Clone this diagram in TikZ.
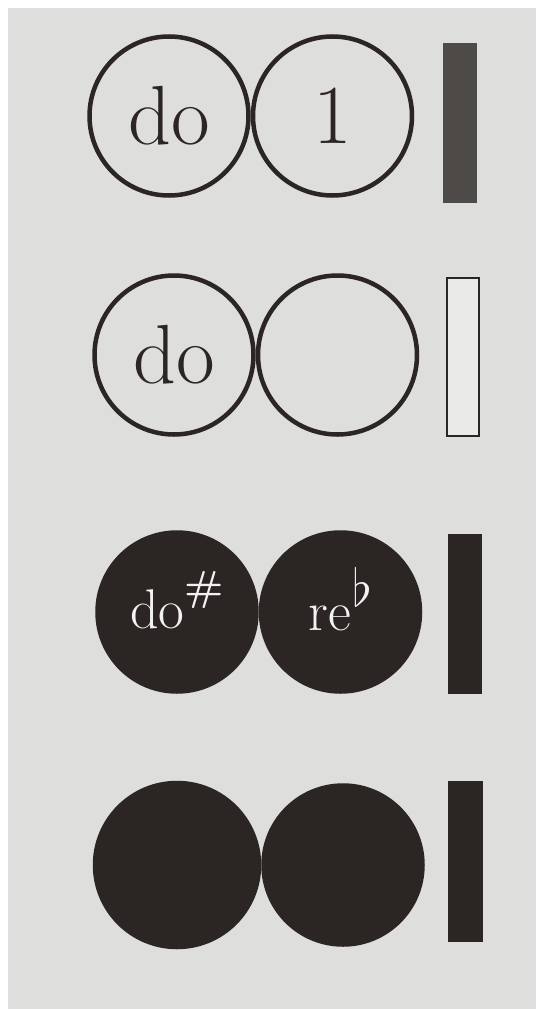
\documentclass[tikz,border=0pt]{standalone}
\usepackage{tikz}
\usetikzlibrary{positioning}
\definecolor{cInk}{HTML}{2B2524}
\definecolor{cGreyInk}{HTML}{4E4A48}
\definecolor{cPaper}{HTML}{DEDEDC}
\definecolor{cChalk}{HTML}{F2F2F0}
\tikzset{
  ring/.style={circle, draw=cInk, line width=4.5pt, minimum size=159pt, inner sep=0pt,
               fill=cPaper, text=cInk, font=\fontsize{84}{84}\selectfont},
  disc/.style={ring, fill=cInk, text=cChalk, font=\fontsize{56}{56}\selectfont},
  stripe/.style={draw=cInk, line width=2.5pt, minimum width=32pt, minimum height=158pt,
                 inner sep=0pt},
  greystripe/.style={stripe, draw=cGreyInk, fill=cGreyInk},
  fullstripe/.style={stripe, fill=cInk}
}
\newcommand{\accsharp}{\raisebox{0.5em}{\fontsize{42}{42}\selectfont\bfseries\#}}
\newcommand{\accflat}{\hspace{2pt}\raisebox{0.42em}{\scalebox{2.1}{$\flat$}}}
\newcommand{\onbase}[2]{\raisebox{#1}[0pt][0pt]{#2}}

\begin{document}
\begin{tikzpicture}[x=1pt, y=-1pt]
\useasboundingbox (0,0) rectangle (536,1009);
\fill[white] (0,0) rectangle (536,1009);
\fill[cPaper] (8,8) rectangle (536,1009);
% row 1: do = 1, grey stripe
\node[ring] (doA) at (169,116) {do};
\node[ring, right=0pt of doA] (oneA) {1};
\node[greystripe] (stA) at (460,123) {};
% row 2: do and an empty circle, open stripe
\node[ring] (doB) at (174,355) {do};
\node[ring, right=0pt of doB] (emptyB) {};
\node[stripe, fill=cChalk!60!cPaper] (stB) at (463,357) {};
% row 3: black discs, do# = reb
\node[disc] (doC) at (177,612) {\onbase{-16pt}{do\accsharp}};
\node[disc, right=0pt of doC] (reC) {\onbase{-18pt}{re\accflat}};
\node[fullstripe] (stC) at (465,614) {};
% row 4: black discs only
\node[disc, minimum size=164pt] (discD) at (177,865) {};
\node[disc, right=0pt of discD] (discE) {};
\node[fullstripe] (stD) at (465.5,861.5) {};
\end{tikzpicture}
\end{document}
